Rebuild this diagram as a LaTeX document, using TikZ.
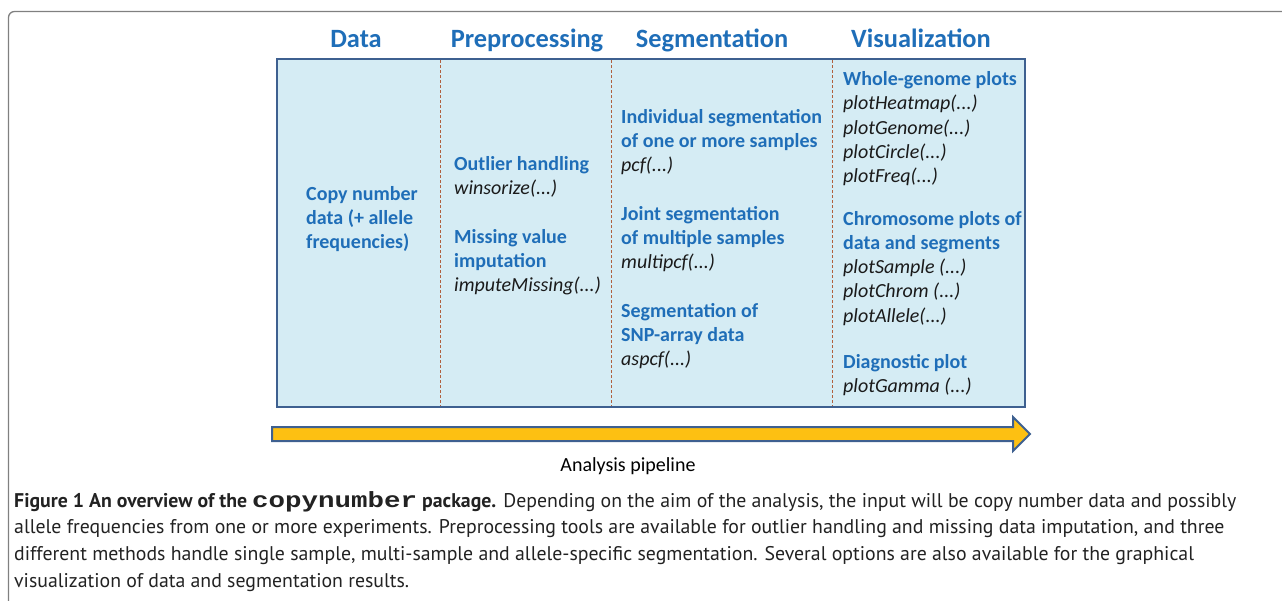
\documentclass[tikz,border=0pt]{standalone}
\usepackage{fontspec}
\setmainfont{Carlito}
\newfontfamily\capfont{PT Sans}
\newfontfamily\codefont{Liberation Mono}[FakeStretch=1.25]

\definecolor{hdrblue}{HTML}{1F6EB8}
\definecolor{boxfill}{HTML}{D5ECF4}
\definecolor{boxline}{HTML}{3E6090}
\definecolor{divline}{HTML}{B0603E}
\definecolor{arrowfill}{HTML}{FDC012}
\definecolor{codeink}{HTML}{1A1A1A}
\definecolor{framegrey}{HTML}{808080}
\definecolor{captionink}{HTML}{222222}

% lines stacked at \baselineskip, baseline of the block = baseline of first line
\newcommand\stack[1]{\vtop{\halign{##\hfil\cr#1\crcr}}}
\newcommand\topic[1]{{\bfseries\color{hdrblue}#1}}
\newcommand\call[1]{{\itshape\color{codeink}#1}}

\tikzset{
  heading/.style={anchor=base, inner sep=0pt, text=hdrblue,
    font=\fontsize{26.4}{31}\selectfont\bfseries},
  entry/.style={anchor=base west, inner sep=0pt,
    font=\fontsize{20}{24.3}\selectfont},
  divider/.style={draw=divline, line width=0.9pt, dash pattern=on 3pt off 2pt},
  stagebox/.style={draw=boxline, fill=boxfill, line width=2.2pt},
  pipearrow/.style={draw=boxline, fill=arrowfill, line width=2pt, line join=miter},
}

\begin{document}
\begin{tikzpicture}[x=1pt, y=-1pt]
\useasboundingbox (0,0) rectangle (1282,600);

% outer figure frame
\draw[framegrey, line width=1.3pt, rounded corners=6pt]
  (8.5,610) -- (8.5,11.5) -- (1295,11.5);

% stage box and column dividers
\path[stagebox] (277,59) rectangle (1025,407);
\coordinate (d1t) at (440,60); \coordinate (d1b) at (440,406);
\coordinate (d2t) at (611,60); \coordinate (d2b) at (611,406);
\coordinate (d3t) at (832,60); \coordinate (d3b) at (832,406);
\draw[divider] (d1t) -- (d1b);
\draw[divider] (d2t) -- (d2b);
\draw[divider] (d3t) -- (d3b);

% column headings
\node[heading] (hData) at (356,47) {Data};
\node[heading] (hPre)  at (527,47) {Preprocessing};
\node[heading] (hSeg)  at (712,47) {Segmentation};
\node[heading] (hVis)  at (921,47) {Visualization};

% data column
\node[entry] (cnData) at (306,200) {\stack{\topic{Copy number}\cr\topic{data (+ allele}\cr\topic{frequencies)}}};

% preprocessing column
\node[entry] (outlier) at (454,170) {\stack{\topic{Outlier handling}\cr\call{winsorize(...)}}};
\node[entry] (missing) at (454,243) {\stack{\topic{Missing value}\cr\topic{imputation}\cr\call{imputeMissing(...)}}};

% segmentation column
\node[entry] (indiv) at (621,123.3) {\stack{\topic{Individual segmentation}\cr\topic{of one or more samples}\cr\call{pcf(...)}}};
\node[entry] (joint) at (621,220) {\stack{\topic{Joint segmentation}\cr\topic{of multiple samples}\cr\call{multipcf(...)}}};
\node[entry] (snp) at (621,317) {\stack{\topic{Segmentation of}\cr\topic{SNP-array data}\cr\call{aspcf(...)}}};

% visualization column
\node[entry] (whole) at (843,85.5) {\stack{\topic{Whole-genome plots}\cr\call{plotHeatmap(...)}\cr\call{plotGenome(...)}\cr\call{plotCircle(...)}\cr\call{plotFreq(...)}}};
\node[entry] (chrom) at (843,225) {\stack{\topic{Chromosome plots of}\cr\topic{data and segments}\cr\call{plotSample (...)}\cr\call{plotChrom (...)}\cr\call{plotAllele(...)}}};
\node[entry] (diag) at (843,368) {\stack{\topic{Diagnostic plot}\cr\call{plotGamma (...)}}};

% pipeline arrow
\path[pipearrow] (272,427) -- (1013,427) -- (1013,417) -- (1030,434)
  -- (1013,451) -- (1013,441) -- (272,441) -- cycle;
\node[anchor=base, inner sep=0pt, font=\fontsize{20}{24}\selectfont] (pipe) at (628,471) {Analysis pipeline};

% caption
\node[anchor=base west, inner sep=0pt, text=captionink,
  font=\capfont\fontsize{19.8}{26.7}\selectfont] (caption) at (14,507)
{\stack{%
\textbf{Figure 1 An overview of the {\codefont\fontsize{22}{26.7}\selectfont copynumber} package.} Depending on the aim of the analysis, the input will be copy number data and possibly\cr
allele frequencies from one or more experiments. Preprocessing tools are available for outlier handling and missing data imputation, and three\cr
different methods handle single sample, multi-sample and allele-specific segmentation. Several options are also available for the graphical\cr
visualization of data and segmentation results.}};
\end{tikzpicture}
\end{document}
